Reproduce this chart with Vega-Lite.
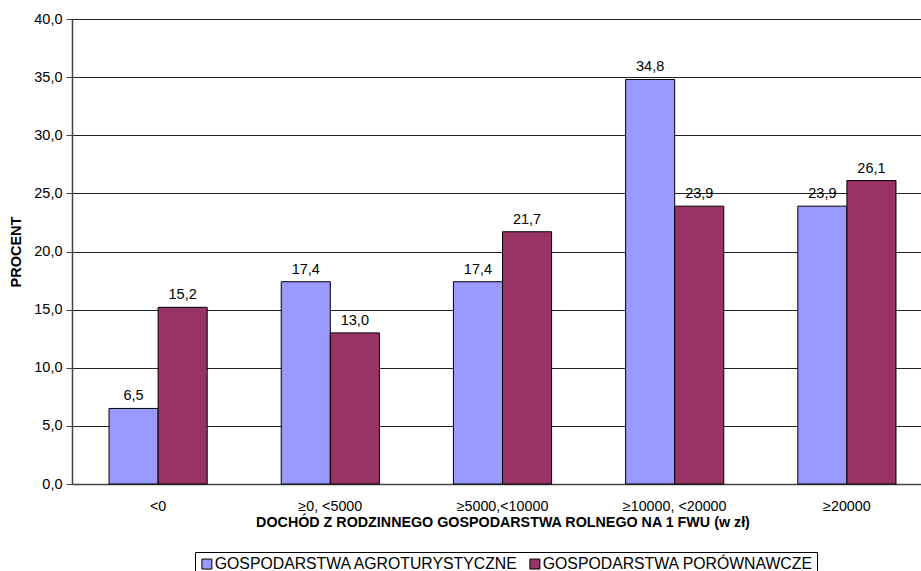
{
  "$schema": "https://vega.github.io/schema/vega-lite/v6.json",
  "width": 861,
  "height": 465,
  "autosize": {"type": "none"},
  "padding": {"left": 72, "top": 19, "right": 0, "bottom": 87},
  "background": "white",
  "config": {
    "font": "Liberation Sans",
    "locale": {"number": {"decimal": ",", "thousands": " ", "grouping": [3], "currency": ["", " zł"]}},
    "view": {"stroke": null}
  },
  "data": {
    "values": [
      {"kat": "<0", "grupa": "GOSPODARSTWA AGROTURYSTYCZNE", "procent": 6.5},
      {"kat": "<0", "grupa": "GOSPODARSTWA PORÓWNAWCZE", "procent": 15.2},
      {"kat": "≥0, <5000", "grupa": "GOSPODARSTWA AGROTURYSTYCZNE", "procent": 17.4},
      {"kat": "≥0, <5000", "grupa": "GOSPODARSTWA PORÓWNAWCZE", "procent": 13.0},
      {"kat": "≥5000,<10000", "grupa": "GOSPODARSTWA AGROTURYSTYCZNE", "procent": 17.4},
      {"kat": "≥5000,<10000", "grupa": "GOSPODARSTWA PORÓWNAWCZE", "procent": 21.7},
      {"kat": "≥10000, <20000", "grupa": "GOSPODARSTWA AGROTURYSTYCZNE", "procent": 34.8},
      {"kat": "≥10000, <20000", "grupa": "GOSPODARSTWA PORÓWNAWCZE", "procent": 23.9},
      {"kat": "≥20000", "grupa": "GOSPODARSTWA AGROTURYSTYCZNE", "procent": 23.9},
      {"kat": "≥20000", "grupa": "GOSPODARSTWA PORÓWNAWCZE", "procent": 26.1}
    ]
  },
  "encoding": {
    "x": {
      "field": "kat", "type": "nominal", "sort": null,
      "scale": {"paddingInner": 0.43, "paddingOuter": 0.215},
      "axis": {
        "title": "DOCHÓD Z RODZINNEGO GOSPODARSTWA ROLNEGO NA 1 FWU (w zł)",
        "titleFont": "Liberation Sans", "titleFontSize": 14.3, "titleFontWeight": "bold", "titleColor": "black",
        "titlePadding": 2,
        "labelAngle": 0, "labelFontSize": 14.3, "labelColor": "black", "labelPadding": 15,
        "ticks": false, "domainColor": "#444", "domainWidth": 1.5
      }
    },
    "xOffset": {"field": "grupa", "type": "nominal", "scale": {"paddingInner": 0}},
    "y": {
      "field": "procent", "type": "quantitative",
      "scale": {"domain": [0, 40], "nice": false},
      "axis": {
        "title": "PROCENT", "titleFontSize": 14.5, "titleFontWeight": "bold", "titleColor": "black", "titlePadding": 10,
        "values": [0, 5, 10, 15, 20, 25, 30, 35, 40], "format": ".1f",
        "labelFontSize": 14.5, "labelColor": "black", "labelPadding": 4,
        "tickSize": 6, "tickColor": "#444", "domainColor": "#444", "domainWidth": 1.5,
        "grid": true, "gridColor": "#222", "gridWidth": 1
      }
    }
  },
  "layer": [
    {
      "mark": {"type": "bar", "stroke": "black", "strokeWidth": 1},
      "encoding": {
        "color": {
          "field": "grupa", "type": "nominal",
          "scale": {"domain": ["GOSPODARSTWA AGROTURYSTYCZNE", "GOSPODARSTWA PORÓWNAWCZE"], "range": ["#9999FF", "#993366"]},
          "legend": {
            "title": null, "orient": "none", "legendX": 123, "legendY": 533,
            "direction": "horizontal", "columns": 2, "columnPadding": 8,
            "symbolType": "square", "symbolSize": 100, "symbolStrokeColor": "black", "symbolStrokeWidth": 1,
            "symbolOpacity": 1,
            "labelFontSize": 15.8, "labelColor": "black", "labelLimit": 500, "labelOffset": 0,
            "strokeColor": "black", "padding": 4
          }
        }
      }
    },
    {
      "mark": {"type": "text", "baseline": "bottom", "dy": -5, "fontSize": 14.5, "color": "black"},
      "encoding": {
        "text": {"field": "procent", "type": "quantitative", "format": ".1f"}
      }
    }
  ]
}
